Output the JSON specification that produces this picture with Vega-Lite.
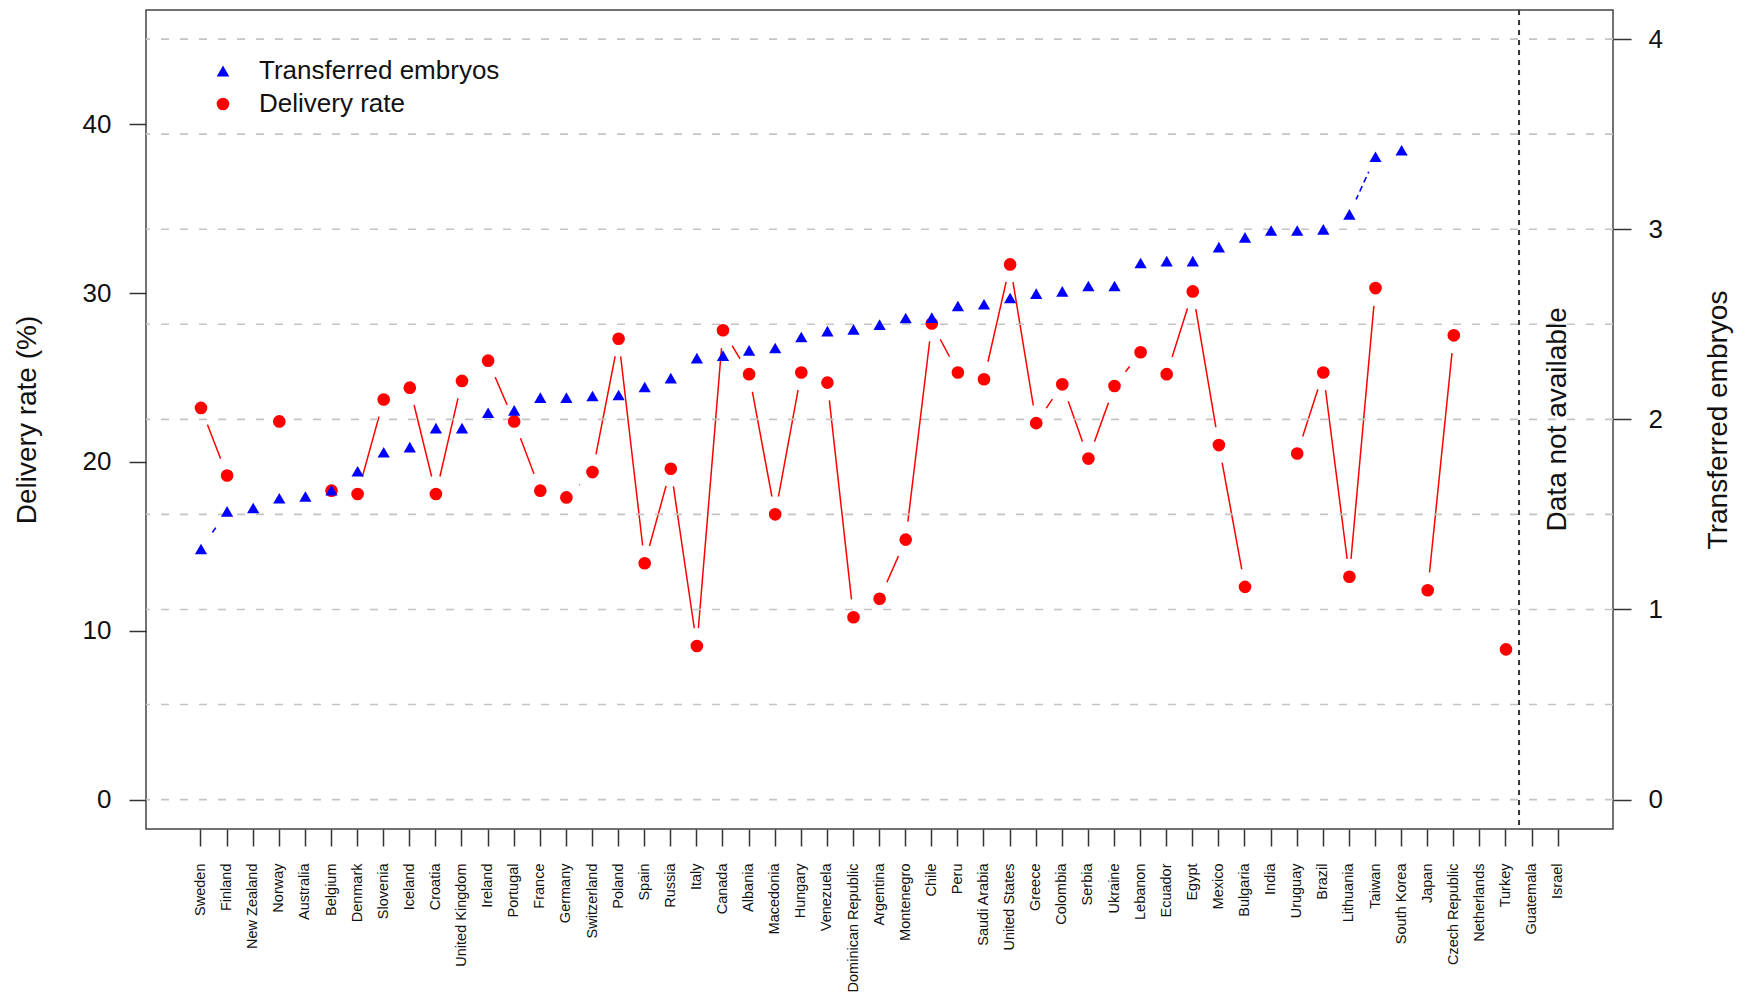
{
  "$schema": "https://vega.github.io/schema/vega-lite/v6.json",
  "autosize": {"type": "none"},
  "padding": {"left": 146, "top": 10, "right": 139, "bottom": 169},
  "width": 1467,
  "height": 819,
  "background": "white",
  "config": {
    "font": "Liberation Sans",
    "view": {"stroke": "#444", "strokeWidth": 1.5},
    "axis": {
      "grid": false,
      "domain": false,
      "tickColor": "#333",
      "tickWidth": 1.5,
      "tickSize": 17,
      "labelColor": "#111",
      "titleColor": "#111",
      "labelFont": "Liberation Sans",
      "titleFont": "Liberation Sans",
      "titleFontWeight": "normal"
    },
    "axisBottom": {"labelAngle": -90, "labelFontSize": 14.5, "labelPadding": 17, "tickSize": 17},
    "axisLeft": {"labelFontSize": 26, "labelPadding": 18, "titleFontSize": 28, "titlePadding": 41},
    "axisRight": {"labelFontSize": 26, "labelPadding": 17, "tickSize": 18, "titleFontSize": 28, "titlePadding": 42}
  },
  "datasets": {
    "countries": [
      {"country": "Sweden", "delivery": 23.2, "embryos": 1.318},
      {"country": "Finland", "delivery": 19.2, "embryos": 1.516},
      {"country": "New Zealand", "delivery": null, "embryos": 1.534},
      {"country": "Norway", "delivery": 22.4, "embryos": 1.585},
      {"country": "Australia", "delivery": null, "embryos": 1.594},
      {"country": "Belgium", "delivery": 18.3, "embryos": 1.627},
      {"country": "Denmark", "delivery": 18.1, "embryos": 1.727},
      {"country": "Slovenia", "delivery": 23.7, "embryos": 1.827},
      {"country": "Iceland", "delivery": 24.4, "embryos": 1.854},
      {"country": "Croatia", "delivery": 18.1, "embryos": 1.954},
      {"country": "United Kingdom", "delivery": 24.8, "embryos": 1.954},
      {"country": "Ireland", "delivery": 26.0, "embryos": 2.035},
      {"country": "Portugal", "delivery": 22.4, "embryos": 2.047},
      {"country": "France", "delivery": 18.3, "embryos": 2.114},
      {"country": "Germany", "delivery": 17.9, "embryos": 2.114},
      {"country": "Switzerland", "delivery": 19.4, "embryos": 2.123},
      {"country": "Poland", "delivery": 27.3, "embryos": 2.128},
      {"country": "Spain", "delivery": 14.0, "embryos": 2.170},
      {"country": "Russia", "delivery": 19.6, "embryos": 2.217},
      {"country": "Italy", "delivery": 9.1, "embryos": 2.322},
      {"country": "Canada", "delivery": 27.8, "embryos": 2.335},
      {"country": "Albania", "delivery": 25.2, "embryos": 2.363},
      {"country": "Macedonia", "delivery": 16.9, "embryos": 2.375},
      {"country": "Hungary", "delivery": 25.3, "embryos": 2.433},
      {"country": "Venezuela", "delivery": 24.7, "embryos": 2.464},
      {"country": "Dominican Republic", "delivery": 10.8, "embryos": 2.473},
      {"country": "Argentina", "delivery": 11.9, "embryos": 2.498},
      {"country": "Montenegro", "delivery": 15.4, "embryos": 2.533},
      {"country": "Chile", "delivery": 28.2, "embryos": 2.535},
      {"country": "Peru", "delivery": 25.3, "embryos": 2.596},
      {"country": "Saudi Arabia", "delivery": 24.9, "embryos": 2.605},
      {"country": "United States", "delivery": 31.7, "embryos": 2.638},
      {"country": "Greece", "delivery": 22.3, "embryos": 2.661},
      {"country": "Colombia", "delivery": 24.6, "embryos": 2.673},
      {"country": "Serbia", "delivery": 20.2, "embryos": 2.701},
      {"country": "Ukraine", "delivery": 24.5, "embryos": 2.701},
      {"country": "Lebanon", "delivery": 26.5, "embryos": 2.822},
      {"country": "Ecuador", "delivery": 25.2, "embryos": 2.832},
      {"country": "Egypt", "delivery": 30.1, "embryos": 2.832},
      {"country": "Mexico", "delivery": 21.0, "embryos": 2.906},
      {"country": "Bulgaria", "delivery": 12.6, "embryos": 2.957},
      {"country": "India", "delivery": null, "embryos": 2.993},
      {"country": "Uruguay", "delivery": 20.5, "embryos": 2.993},
      {"country": "Brazil", "delivery": 25.3, "embryos": 2.999},
      {"country": "Lithuania", "delivery": 13.2, "embryos": 3.078},
      {"country": "Taiwan", "delivery": 30.3, "embryos": 3.381},
      {"country": "South Korea", "delivery": null, "embryos": 3.415},
      {"country": "Japan", "delivery": 12.4, "embryos": null},
      {"country": "Czech Republic", "delivery": 27.5, "embryos": null},
      {"country": "Netherlands", "delivery": null, "embryos": null},
      {"country": "Turkey", "delivery": 8.9, "embryos": null},
      {"country": "Guatemala", "delivery": null, "embryos": null},
      {"country": "Israel", "delivery": null, "embryos": null}
    ],
    "grid": [
      {"g": 0}, {"g": 0.5}, {"g": 1}, {"g": 1.5}, {"g": 2},
      {"g": 2.5}, {"g": 3}, {"g": 3.5}, {"g": 4}
    ],
    "note": [
      {"label": "Data not available", "level": 2}
    ]
  },
  "layer": [
    {
      "data": {"name": "countries"},
      "mark": {"type": "line", "color": "#0000FF", "strokeWidth": 1.6, "strokeDash": [6, 4], "invalid": "break-paths-show-domains"},
      "encoding": {
        "x": {"field": "country", "type": "nominal", "sort": null, "scale": {"type": "band", "paddingInner": 0, "paddingOuter": 1, "range": [15.85, 1451.35]}, "axis": {"title": null}},
        "y": {"field": "embryos", "type": "quantitative", "scale": {"domain": [-0.1546, 4.153], "nice": false, "zero": false}, "axis": null}
      }
    },
    {
      "data": {"name": "countries"},
      "mark": {"type": "circle", "color": "white", "opacity": 1, "size": 1089},
      "encoding": {
        "x": {"field": "country", "type": "nominal", "sort": null},
        "y": {"field": "embryos", "type": "quantitative", "scale": {"domain": [-0.1546, 4.153], "nice": false, "zero": false}, "axis": null}
      }
    },
    {
      "data": {"name": "countries"},
      "mark": {"type": "line", "color": "#FF0000", "strokeWidth": 1.5, "invalid": "break-paths-show-domains"},
      "encoding": {
        "x": {"field": "country", "type": "nominal", "sort": null},
        "y": {"field": "delivery", "type": "quantitative", "scale": {"domain": [-1.74, 46.77], "nice": false, "zero": false}, "axis": null}
      }
    },
    {
      "data": {"name": "countries"},
      "mark": {"type": "circle", "color": "white", "opacity": 1, "size": 1296},
      "encoding": {
        "x": {"field": "country", "type": "nominal", "sort": null},
        "y": {"field": "delivery", "type": "quantitative", "scale": {"domain": [-1.74, 46.77], "nice": false, "zero": false}, "axis": null}
      }
    },
    {
      "data": {"name": "grid"},
      "mark": {"type": "rule", "color": "#c4c4c4", "strokeWidth": 1.6, "strokeDash": [8, 11]},
      "encoding": {
        "y": {"field": "g", "type": "quantitative", "scale": {"domain": [-0.1546, 4.153], "nice": false, "zero": false}, "axis": null}
      }
    },
    {
      "data": {"name": "note"},
      "mark": {"type": "rule", "color": "#333", "strokeWidth": 2, "strokeDash": [5, 5]},
      "encoding": {
        "x": {"datum": "Guatemala", "bandPosition": 0}
      }
    },
    {
      "data": {"name": "note"},
      "mark": {"type": "text", "angle": 270, "align": "center", "baseline": "middle", "fontSize": 28, "color": "#111"},
      "encoding": {
        "x": {"datum": "Israel"},
        "y": {"field": "level", "type": "quantitative", "scale": {"domain": [-0.1546, 4.153], "nice": false, "zero": false}, "axis": null},
        "text": {"field": "label"}
      }
    },
    {
      "data": {"name": "countries"},
      "mark": {"type": "point", "filled": true, "opacity": 1, "size": 160, "strokeWidth": 0},
      "encoding": {
        "x": {"field": "country", "type": "nominal", "sort": null},
        "y": {"field": "delivery", "type": "quantitative", "scale": {"domain": [-1.74, 46.77], "nice": false, "zero": false},
          "axis": {"orient": "left", "values": [0, 10, 20, 30, 40], "title": "Delivery rate (%)"}},
        "color": {"datum": "Delivery rate", "scale": {"domain": ["Transferred embryos", "Delivery rate"], "range": ["#0000FF", "#FF0000"]},
          "legend": {"orient": "none", "legendX": 64, "legendY": 48, "title": null, "labelFontSize": 26, "labelLimit": 400, "labelColor": "#111", "symbolSize": 160, "labelOffset": 23, "rowPadding": 7, "padding": 0, "symbolStrokeWidth": 0}},
        "shape": {"datum": "Delivery rate", "scale": {"domain": ["Transferred embryos", "Delivery rate"], "range": ["triangle-up", "circle"]},
          "legend": {"orient": "none", "legendX": 64, "legendY": 48, "title": null, "labelFontSize": 26, "labelLimit": 400, "labelColor": "#111", "symbolSize": 160, "labelOffset": 23, "rowPadding": 7, "padding": 0, "symbolStrokeWidth": 0}}
      }
    },
    {
      "data": {"name": "countries"},
      "mark": {"type": "point", "filled": true, "opacity": 1, "size": 150, "strokeWidth": 0},
      "encoding": {
        "x": {"field": "country", "type": "nominal", "sort": null},
        "y": {"field": "embryos", "type": "quantitative", "scale": {"domain": [-0.1546, 4.153], "nice": false, "zero": false},
          "axis": {"orient": "right", "values": [0, 1, 2, 3, 4], "title": "Transferred embryos", "titleAngle": -90, "titleBaseline": "top"}},
        "color": {"datum": "Transferred embryos"},
        "shape": {"datum": "Transferred embryos"}
      }
    }
  ],
  "resolve": {"scale": {"y": "independent"}}
}
